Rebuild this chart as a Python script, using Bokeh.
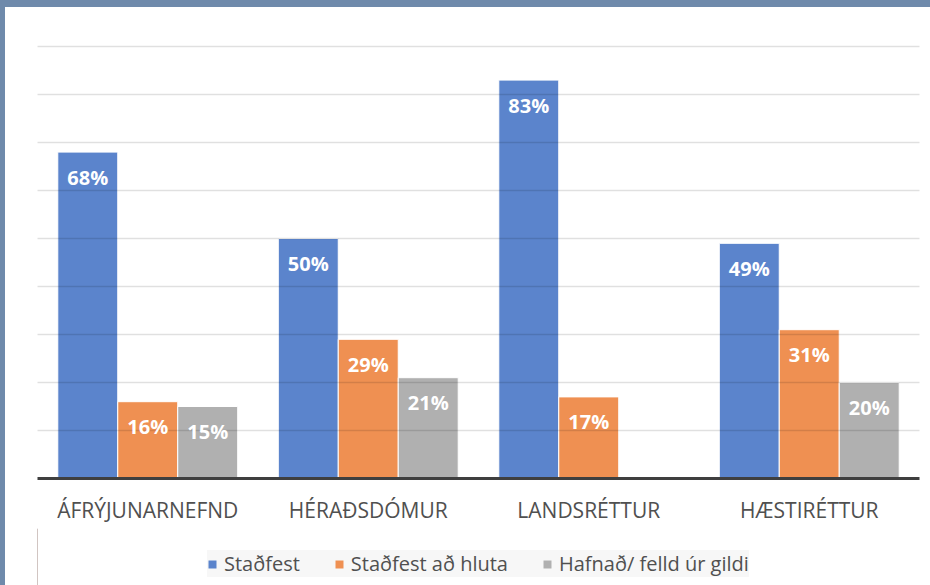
from bokeh.plotting import figure
from bokeh.layouts import column
from bokeh.models import (ColumnDataSource, FactorRange, Legend, LegendItem,
                          SingleIntervalTicker)
from bokeh.transform import dodge
from bokeh.core.properties import value
from bokeh.embed import file_html
from bokeh.resources import INLINE

# ---- data ----
categories = ["ÁFRÝJUNARNEFND", "HÉRAÐSDÓMUR", "LANDSRÉTTUR", "HÆSTIRÉTTUR"]
series_names = ["Staðfest", "Staðfest að hluta", "Hafnað/ felld úr gildi"]
stadfest = [68, 50, 83, 49]
stadfest_ad_hluta = [16, 29, 17, 31]
hafnad = [15, 21, None, 20]

colors = ["#5b84cc", "#ef9052", "#b0b0b0"]
FONT = "Open Sans"
TEXT_COL = "#505050"
WHITE_BG = {"background-color": "white"}

# ---- main chart ----
p = figure(x_range=FactorRange(*categories), y_range=(0, 91.25),
           width=925, height=521, output_backend="svg", toolbar_location=None,
           min_border_left=32, min_border_right=11, min_border_top=33,
           min_border_bottom=50)
p.styles = WHITE_BG
p.outline_line_color = None
p.background_fill_color = "white"
p.border_fill_color = "white"

p.yaxis.visible = False
p.xgrid.visible = False
p.ygrid.ticker = SingleIntervalTicker(interval=10)
p.ygrid.grid_line_color = "#000000"
p.ygrid.grid_line_alpha = 0.12
p.ygrid.grid_line_width = 1.5
p.ygrid.level = "guide"

ax = p.xaxis[0]
ax.axis_line_color = "#3f3f3f"
ax.axis_line_width = 3
ax.major_tick_line_color = None
ax.minor_tick_line_color = None
ax.major_label_standoff = 11
ax.major_label_text_font = FONT
ax.major_label_text_font_size = "21px"
ax.major_label_text_color = TEXT_COL

series = [stadfest, stadfest_ad_hluta, hafnad]
offsets = [-0.272, 0.0, 0.272]
for name, vals, col, off in zip(series_names, series, colors, offsets):
    tops = [float("nan") if v is None else v for v in vals]
    src = ColumnDataSource(dict(x=categories, top=tops))
    p.vbar(x=dodge("x", off, range=p.x_range), top="top", width=0.272,
           source=src, fill_color=col, line_color="white", line_width=1)
    lx = [c for c, v in zip(categories, vals) if v is not None]
    ly = [v for v in vals if v is not None]
    lt = [f"{v}%" for v in vals if v is not None]
    lsrc = ColumnDataSource(dict(x=lx, y=ly, t=lt))
    tr = p.text(x=dodge("x", off, range=p.x_range), y="y", text="t", source=lsrc,
                text_font=value(FONT), text_font_style="bold",
                text_font_size="20px", text_color="white",
                text_align="center", text_baseline="middle", y_offset=25)
    tr.level = "overlay"

# ---- legend strip ----
pl = figure(width=925, height=57, output_backend="svg", toolbar_location=None,
            x_axis_type=None, y_axis_type=None, x_range=(0, 1), y_range=(0, 1),
            min_border_left=0, min_border_right=0, min_border_top=0,
            min_border_bottom=0)
pl.styles = WHITE_BG
pl.outline_line_color = None
pl.background_fill_color = "white"
pl.border_fill_color = "white"
pl.xgrid.visible = False
pl.ygrid.visible = False

items = []
for name, col in zip(series_names, colors):
    # legend swatch carriers, placed outside the visible range
    r = pl.vbar(x=[-10], top=[1], width=0.1, fill_color=col, line_color=None)
    items.append(LegendItem(label=name, renderers=[r]))

legend = Legend(items=items, orientation="horizontal", location=(170, 8),
                glyph_width=10, glyph_height=10, label_standoff=7, spacing=34,
                padding=10, margin=0, label_text_font=FONT,
                label_text_font_size="20px",
                label_text_color=TEXT_COL, border_line_color=None,
                background_fill_color="#f7f7f7", background_fill_alpha=1.0)
pl.add_layout(legend, "center")

root = column(p, pl, styles={"background-color": "white",
                             "border-top": "7px solid #6f8aab",
                             "border-left": "5px solid #6f8aab"})
html = file_html(root, INLINE)
open("out.html", "w").write(html)
